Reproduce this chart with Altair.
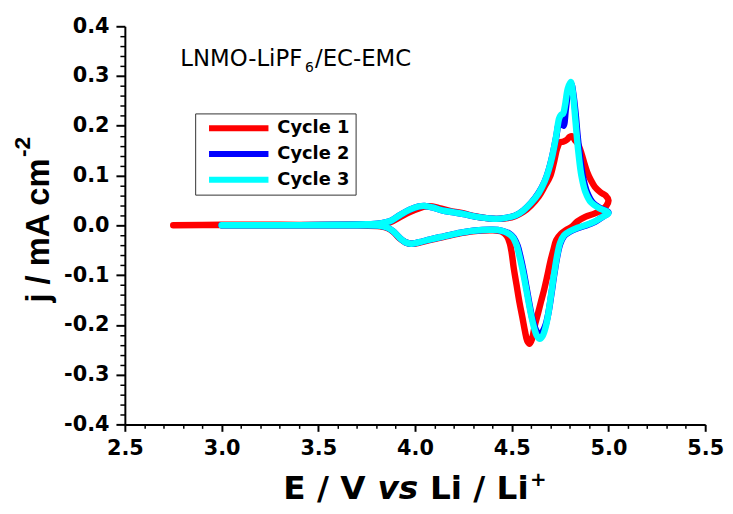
import altair as alt
import pandas as pd

# ---------------- data ----------------
CYCLES = ["Cycle 1", "Cycle 2", "Cycle 3"]
COLORS = ["#ff0000", "#0000ff", "#00ffff"]

# Cycle 1 (red)
E1 = [2.75, 3.00, 3.30, 3.60, 3.75, 3.82, 3.87, 3.92, 3.97, 4.02,
      4.06, 4.09, 4.13, 4.18, 4.24, 4.30, 4.36, 4.42, 4.47, 4.52,
      4.56, 4.60, 4.64, 4.67, 4.70, 4.72, 4.735, 4.75, 4.765, 4.785,
      4.80, 4.812, 4.825, 4.84, 4.86, 4.875, 4.89, 4.91, 4.93, 4.96,
      4.985, 5.00,
      4.99, 4.97, 4.93, 4.88, 4.84, 4.81, 4.78, 4.755, 4.73, 4.715,
      4.70, 4.69, 4.68, 4.665, 4.65, 4.635, 4.62, 4.605, 4.592, 4.58,
      4.568, 4.555, 4.54, 4.525, 4.51, 4.50, 4.49, 4.475, 4.45, 4.40,
      4.30, 4.22, 4.15, 4.08, 4.02, 3.98, 3.95, 3.92, 3.89, 3.86,
      3.82, 3.70, 3.40, 3.00]
J1 = [0.000, 0.001, 0.001, 0.001, 0.002, 0.003, 0.006, 0.016, 0.026, 0.034,
      0.038, 0.038, 0.034, 0.029, 0.025, 0.019, 0.015, 0.013, 0.014, 0.019,
      0.027, 0.040, 0.058, 0.078, 0.100, 0.130, 0.155, 0.167, 0.168, 0.172,
      0.178, 0.179, 0.172, 0.165, 0.145, 0.125, 0.107, 0.090, 0.077, 0.066,
      0.060, 0.050,
      0.040, 0.032, 0.024, 0.017, 0.008, -0.003, -0.010, -0.017, -0.030, -0.050,
      -0.072, -0.090, -0.108, -0.133, -0.155, -0.178, -0.200, -0.228, -0.238, -0.232,
      -0.212, -0.185, -0.155, -0.120, -0.085, -0.056, -0.036, -0.022, -0.013, -0.010,
      -0.012, -0.017, -0.023, -0.029, -0.035, -0.037, -0.034, -0.026, -0.014, -0.006,
      -0.002, 0.000, 0.000, 0.000]

# Cycle 2 (blue)
E2 = [3.00, 3.30, 3.60, 3.75, 3.82, 3.87, 3.92, 3.97, 4.02, 4.05,
      4.09, 4.14, 4.20, 4.26, 4.32, 4.38, 4.42, 4.47, 4.52, 4.56,
      4.60, 4.64, 4.67, 4.69, 4.71, 4.73, 4.745, 4.758, 4.768, 4.78,
      4.795, 4.808, 4.818, 4.83, 4.84, 4.852, 4.868, 4.89, 4.92, 4.96,
      5.00,
      4.97, 4.93, 4.88, 4.84, 4.80, 4.77, 4.75, 4.735, 4.72, 4.705,
      4.69, 4.675, 4.66, 4.645, 4.632, 4.62, 4.605, 4.59, 4.575, 4.56,
      4.545, 4.53, 4.51, 4.485, 4.45, 4.40, 4.30, 4.22, 4.15, 4.08,
      4.02, 3.98, 3.95, 3.92, 3.89, 3.86, 3.82, 3.70, 3.40, 3.00]
J2 = [0.000, 0.000, 0.001, 0.002, 0.004, 0.008, 0.020, 0.031, 0.038, 0.039,
      0.036, 0.030, 0.026, 0.022, 0.017, 0.014, 0.013, 0.015, 0.020, 0.030,
      0.045, 0.066, 0.088, 0.110, 0.140, 0.178, 0.205, 0.205, 0.200, 0.235,
      0.275, 0.283, 0.265, 0.225, 0.182, 0.140, 0.098, 0.066, 0.045, 0.034,
      0.026,
      0.017, 0.007, -0.001, -0.006, -0.013, -0.022, -0.038, -0.063, -0.098, -0.138,
      -0.175, -0.200, -0.213, -0.218, -0.215, -0.205, -0.185, -0.155, -0.122, -0.090,
      -0.063, -0.041, -0.025, -0.016, -0.011, -0.009, -0.011, -0.016, -0.022, -0.028,
      -0.034, -0.037, -0.034, -0.025, -0.013, -0.005, -0.001, 0.000, 0.000, 0.000]

# Cycle 3 (cyan)
E3 = [3.00, 3.30, 3.60, 3.75, 3.82, 3.87, 3.92, 3.97, 4.02, 4.05,
      4.09, 4.14, 4.20, 4.26, 4.32, 4.38, 4.42, 4.47, 4.52, 4.56,
      4.60, 4.64, 4.67, 4.69, 4.71, 4.73, 4.745, 4.755, 4.765, 4.775,
      4.79, 4.805, 4.815, 4.825, 4.835, 4.845, 4.86, 4.88, 4.91, 4.95,
      5.00,
      4.97, 4.93, 4.88, 4.84, 4.80, 4.77, 4.75, 4.735, 4.72, 4.705,
      4.69, 4.675, 4.66, 4.645, 4.63, 4.615, 4.60, 4.585, 4.57, 4.555,
      4.54, 4.525, 4.505, 4.48, 4.45, 4.40, 4.30, 4.22, 4.15, 4.08,
      4.02, 3.98, 3.95, 3.92, 3.89, 3.86, 3.82, 3.70, 3.40, 3.00]
J3 = [0.000, 0.000, 0.001, 0.002, 0.004, 0.008, 0.020, 0.031, 0.038, 0.039,
      0.036, 0.030, 0.026, 0.022, 0.017, 0.014, 0.013, 0.015, 0.020, 0.030,
      0.045, 0.065, 0.088, 0.110, 0.140, 0.180, 0.215, 0.222, 0.224, 0.240,
      0.275, 0.288, 0.270, 0.230, 0.185, 0.145, 0.100, 0.068, 0.046, 0.035,
      0.025,
      0.017, 0.008, 0.000, -0.005, -0.012, -0.020, -0.035, -0.060, -0.095, -0.135,
      -0.175, -0.205, -0.222, -0.228, -0.222, -0.205, -0.180, -0.150, -0.118, -0.088,
      -0.062, -0.040, -0.024, -0.016, -0.011, -0.009, -0.011, -0.016, -0.022, -0.028,
      -0.034, -0.037, -0.034, -0.025, -0.013, -0.005, -0.001, 0.000, 0.000, 0.000]

X_DOMAIN = [2.5, 5.5]
Y_DOMAIN = [-0.4, 0.4]
X_TICKS = [round(2.5 + 0.1 * k, 1) for k in range(31)]
Y_TICKS = [round(-0.4 + 0.02 * k, 2) for k in range(41)]

ANNOT = ["LNMO-LiPF", "6", "/EC-EMC"]
XTITLE = ["E / V", "vs", "Li / Li", "+"]
YTITLE = ["j / mA cm", "-2"]

# ---------------- build table ----------------
rows = []
for name, E, J in [(CYCLES[0], E1, J1), (CYCLES[1], E2, J2), (CYCLES[2], E3, J3)]:
    for i, (e, j) in enumerate(zip(E, J)):
        rows.append({"cycle": name, "E": e, "j": j, "i": i})
df = pd.DataFrame(rows)

X_MAJOR = "abs(datum.value*2 - round(datum.value*2)) < 0.000001"
Y_MAJOR = "abs(datum.value*10 - round(datum.value*10)) < 0.000001"

common_axis = dict(
    title=None, grid=False, domainColor="black", domainWidth=2,
    tickColor="black", labelFont="DejaVu Sans", labelFontWeight="bold",
    labelFontSize=21, labelColor="black", labelFlush=False,
    labelOverlap=False, labelBound=False,
)

xaxis = alt.Axis(
    values=X_TICKS,
    tickSize={"condition": {"test": X_MAJOR, "value": 7}, "value": 4},
    tickWidth={"condition": {"test": X_MAJOR, "value": 2}, "value": 1.5},
    labelExpr=f"{X_MAJOR} ? replace(format(datum.value, '.1f'), '\u2212', '-') : ''",
    labelPadding=6,
    **common_axis,
)
yaxis = alt.Axis(
    values=Y_TICKS,
    tickSize={"condition": {"test": Y_MAJOR, "value": 9}, "value": 5},
    tickWidth={"condition": {"test": Y_MAJOR, "value": 2}, "value": 1.5},
    labelExpr=f"{Y_MAJOR} ? replace(format(datum.value, '.1f'), '\u2212', '-') : ''",
    labelPadding=7,
    **common_axis,
)

legend = alt.Legend(
    title=None, orient="none", legendX=71, legendY=88,
    symbolType="stroke", symbolSize=3600, symbolStrokeWidth=6,
    clipHeight=18, rowPadding=8, padding=6, symbolOffset=5, labelOffset=6,
    labelFont="DejaVu Sans", labelFontWeight="bold", labelFontSize=18,
    labelColor="black", strokeColor="#333333", fillColor="white",
)

lines = alt.Chart(df).mark_line(
    strokeWidth=6.5, strokeCap="round", strokeJoin="round",
    interpolate="catmull-rom",
).encode(
    x=alt.X("E:Q", scale=alt.Scale(domain=X_DOMAIN, nice=False, zero=False), axis=xaxis),
    y=alt.Y("j:Q", scale=alt.Scale(domain=Y_DOMAIN, nice=False, zero=False), axis=yaxis),
    color=alt.Color("cycle:N", scale=alt.Scale(domain=CYCLES, range=COLORS), legend=legend),
    order="i:Q",
)


def txt(s, x, y, size, font="DejaVu Sans", weight="normal", style="normal", angle=0):
    return alt.Chart(pd.DataFrame({"t": [s]})).mark_text(
        align="left", baseline="alphabetic", font=font, fontSize=size,
        fontWeight=weight, fontStyle=style, angle=angle, color="black",
    ).encode(x=alt.value(x), y=alt.value(y), text="t:N")


texts = [
    # annotation
    txt(ANNOT[0], 56, 40, 23),
    txt(ANNOT[1], 182, 46, 14),
    txt(ANNOT[2], 192, 40, 23),
    # x title
    txt(XTITLE[0], 160, 477, 33, weight="bold"),
    txt(XTITLE[1], 255, 477, 33, weight="bold", style="italic"),
    txt(XTITLE[2], 308, 477, 33, weight="bold"),
    txt(XTITLE[3], 409, 464, 20, weight="bold"),
    # y title
    txt(YTITLE[0], -77, 279, 33, font="Liberation Sans", weight="bold", angle=270),
    txt(YTITLE[1], -96, 132, 23, font="Liberation Sans", weight="bold", angle=270),
]

chart = alt.layer(lines, *texts).properties(
    width=586, height=402,
    autosize=alt.AutoSizeParams(type="none"),
    padding={"left": 118, "top": 16, "right": 20, "bottom": 85},
).configure_view(stroke=None)

chart.save("out.html", embed_options={"renderer": "svg", "actions": False})
